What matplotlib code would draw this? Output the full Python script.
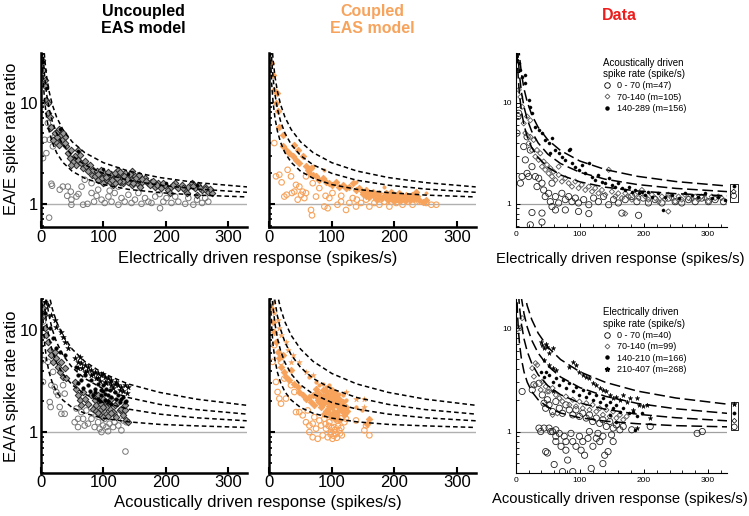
import matplotlib.pyplot as plt
import numpy as np
from matplotlib.lines import Line2D
from matplotlib.ticker import FixedLocator, LogLocator, NullFormatter, MultipleLocator

plt.rcParams['font.family'] = ['Liberation Sans', 'DejaVu Sans']

naranja = '#F7A35C'

# eje x comun para las curvas de referencia (spikes/s)
curva_x = [1.5, 2.5, 4, 6, 9, 13, 18, 25, 35, 50, 70, 100, 140, 190, 250, 330]

# curvas modelo fila superior (EA/E)
sup_modelo = [
    [37.7, 23.0, 14.75, 10.17, 7.11, 5.23, 4.06, 3.2, 2.57, 2.1, 1.79, 1.55, 1.39, 1.29, 1.22, 1.17],
    [67.7, 41.0, 26.0, 17.67, 12.11, 8.69, 6.56, 5.0, 3.86, 3.0, 2.43, 2.0, 1.71, 1.53, 1.4, 1.3],
    [104.3, 63.0, 39.75, 26.83, 18.22, 12.92, 9.61, 7.2, 5.43, 4.1, 3.21, 2.55, 2.11, 1.82, 1.62, 1.47],
]
# curvas modelo fila inferior (EA/A)
inf_modelo = [
    [25.7, 15.8, 10.25, 7.17, 5.11, 3.85, 3.06, 2.48, 2.06, 1.74, 1.53, 1.37, 1.26, 1.19, 1.15, 1.11],
    [64.3, 39.0, 24.75, 16.83, 11.56, 8.31, 6.28, 4.8, 3.71, 2.9, 2.36, 1.95, 1.68, 1.5, 1.38, 1.29],
    [111.0, 67.0, 42.25, 28.5, 19.33, 13.69, 10.17, 7.6, 5.71, 4.3, 3.36, 2.65, 2.18, 1.87, 1.66, 1.5],
    [184.3, 111.0, 69.75, 46.83, 31.56, 22.15, 16.28, 12.0, 8.86, 6.5, 4.93, 3.75, 2.96, 2.45, 2.1, 1.83],
]
# curvas de los datos
sup_datos = [
    [44.3, 27.0, 17.25, 11.83, 8.22, 6.0, 4.61, 3.6, 2.86, 2.3, 1.93, 1.65, 1.46, 1.34, 1.26, 1.2],
    [71.0, 43.0, 27.25, 18.5, 12.67, 9.08, 6.83, 5.2, 4.0, 3.1, 2.5, 2.05, 1.75, 1.55, 1.42, 1.32],
    [111.0, 67.0, 42.25, 28.5, 19.33, 13.69, 10.17, 7.6, 5.71, 4.3, 3.36, 2.65, 2.18, 1.87, 1.66, 1.5],
]
inf_datos = [
    [25.0, 15.4, 10.0, 7.0, 5.0, 3.77, 3.0, 2.44, 2.03, 1.72, 1.51, 1.36, 1.26, 1.19, 1.14, 1.11],
    [60.3, 36.6, 23.25, 15.83, 10.89, 7.85, 5.94, 4.56, 3.54, 2.78, 2.27, 1.89, 1.64, 1.47, 1.36, 1.27],
    [111.7, 67.4, 42.5, 28.67, 19.44, 13.77, 10.22, 7.64, 5.74, 4.32, 3.37, 2.66, 2.19, 1.87, 1.66, 1.5],
    [186.3, 112.2, 70.5, 47.33, 31.89, 22.38, 16.44, 12.12, 8.94, 6.56, 4.97, 3.78, 2.99, 2.46, 2.11, 1.84],
]

# ---------------- puntos (x, razon) ----------------
tl_circ = [(13, 0.73), (16.6, 1.58), (17.7, 1.51), (30, 1.38), (35, 1.48), (43, 1.48), (47.7, 1.32), (48.7, 1.1),
           (48.7, 0.98), (42, 1.2), (56.8, 1.18), (65, 1.48), (67.5, 0.98), (74.5, 1.0), (81, 1.6), (81, 1.28),
           (89, 1.2), (91.6, 1.38), (97, 1.1), (102, 1.02), (108, 1.18), (113, 1.05), (118, 1.28), (124, 0.98),
           (129, 1.14), (134, 1.05), (140, 1.23), (145, 1.02), (150.5, 1.1), (156, 1.28), (161, 1.0), (166.6, 1.14),
           (172, 1.05), (177, 1.02), (183, 1.18), (190.7, 0.905), (196, 1.05), (201, 1.14), (209, 1.02), (215, 1.18),
           (220, 1.05), (231, 1.0), (236, 1.14), (244, 0.98), (250, 1.1), (258, 1.02), (263, 1.14), (268, 1.05),
           (3.2, 2.83), (5.9, 4.3), (14, 4.3), (11, 6.3), (8.6, 3.17), (1.6, 9.9), (19, 3.7), (22, 4.6),
           (70, 1.73), (102, 1.6), (124, 1.48), (156, 1.66), (60, 1.25), (85, 1.05), (110, 1.35), (190, 1.25)]
tl_diam = [(1.6, 26.7), (3.2, 21.1), (5.9, 16.9), (7, 14.5), (8.6, 10.7), (11.2, 9.9), (11.2, 7.9), (14, 7.3),
           (14, 5.6), (16.6, 5.8), (22, 5.0), (27, 5.2), (30, 4.47), (32.7, 4.8), (35, 4.1), (38, 4.6), (24.6, 4.1),
           (28.4, 3.84), (40.7, 3.7), (19.3, 4.3), (43.4, 3.17), (46, 2.83), (48.7, 3.42), (51.4, 2.62), (54, 2.94),
           (56.8, 2.43), (59.5, 2.73), (62, 3.06), (64.8, 2.53), (67.5, 2.25), (70, 2.63), (72.8, 2.34), (75.5, 2.09),
           (78, 2.43), (81, 1.94), (48.7, 2.43), (59.5, 3.42), (83.6, 2.17), (86.2, 1.87), (89, 2.09), (91.6, 1.73),
           (94, 2.01), (97, 1.8), (99.6, 1.6), (102, 1.94), (105, 1.73), (107.6, 1.87), (110, 1.66), (113, 1.8),
           (115.7, 1.54), (118, 1.94), (121, 1.73), (123.7, 1.87), (126.4, 1.66), (129, 1.8), (131.8, 1.6),
           (134.4, 1.73), (137, 1.87), (140, 1.66), (142.5, 1.8), (145, 1.54), (148, 1.73), (150.5, 1.87), (153, 1.6),
           (156, 1.73), (158.5, 1.48), (161, 1.66), (123.7, 2.17), (134, 2.01), (145, 2.09), (166.6, 1.8), (172, 1.6),
           (177, 1.66), (183, 1.48), (188, 1.6), (193, 1.43), (198.7, 1.54), (204, 1.38), (209, 1.48), (215, 1.6),
           (220, 1.43), (225.5, 1.54), (231, 1.38), (236, 1.48), (241.6, 1.6), (247, 1.43), (252, 1.54), (257.6, 1.38),
           (263, 1.48), (268, 1.32), (273.7, 1.28), (206.7, 1.28), (233.5, 1.28), (249.6, 1.23), (120, 1.78),
           (128, 1.95), (136, 1.78), (112, 1.95), (100, 2.05), (132, 1.68), (140, 1.9), (125, 1.7), (118, 1.62),
           (92, 1.95), (96, 2.15), (104, 1.85), (108, 2.05), (114, 1.72), (119, 2.0), (122, 1.82), (127, 2.05),
           (133, 1.9), (138, 1.75), (143, 1.95), (147, 1.62), (152, 1.78), (157, 1.92), (162, 1.75), (168, 1.68),
           (174, 1.55), (180, 1.7), (186, 1.52), (195, 1.62), (212, 1.55), (228, 1.45), (244, 1.5), (255, 1.45),
           (262, 1.4), (270, 1.4), (25, 4.6), (29, 5.5), (33, 4.3), (36, 5.0), (39, 4.0)]
tl_dot = [(4, 25), (10, 14), (30, 5.5), (60, 3.3), (100, 2.2), (140, 1.95), (200, 1.62), (250, 1.52)]

tm_circ = [(8, 3.99), (10.7, 1.87), (16, 1.94), (19.7, 1.63), (24, 1.18), (27.7, 1.23), (34.7, 1.87), (36.3, 1.28),
           (40, 1.32), (45.4, 1.1), (48, 1.48), (50.7, 1.23), (53.4, 1.32), (56, 1.14), (58.7, 1.28), (66.7, 0.87),
           (68.3, 0.77), (74.7, 1.18), (80, 1.43), (88, 0.94), (93.4, 0.905), (96, 1.14), (101, 1.28), (109, 0.98),
           (114.7, 1.05), (122.7, 0.87), (128, 1.02), (133.4, 1.14), (138.7, 0.94), (146.7, 1.02), (154.7, 1.1),
           (160, 0.94), (168, 1.02), (176, 0.98), (184, 1.05), (192, 0.94), (203, 1.02), (213, 0.98), (221, 1.05),
           (229, 0.98), (240, 1.05), (250.8, 1.02), (259, 0.98), (267, 0.98), (29.3, 2.17), (42.7, 1.54),
           (58.7, 1.87), (69.4, 1.6), (90, 1.2), (115, 1.2), (140, 1.1), (175, 1.12), (205, 1.1)]
tm_diam = [(2.7, 24.7), (5.3, 18.9), (8, 13.5), (10.7, 9.9), (11.7, 12.5), (13.3, 8.2), (16, 5.8), (22.4, 4.8),
           (21.3, 3.7), (26.7, 3.42), (32, 3.17), (37.4, 2.94), (40, 3.84), (42.7, 2.73), (45.4, 3.42), (48, 2.53),
           (53.4, 2.94), (58.7, 2.34), (61.4, 2.17), (64, 2.01), (66.7, 2.25), (69.4, 1.94), (74.7, 1.87), (80, 1.73),
           (85.4, 1.8), (90.7, 1.66), (96, 1.6), (101, 1.54), (106.7, 1.66), (112, 1.48), (117.4, 1.54), (122.7, 1.43),
           (128, 1.48), (133.4, 1.6), (138.7, 1.38), (144, 1.43), (149.4, 1.32), (154.7, 1.38), (160, 1.28),
           (165, 1.32), (170.8, 1.23), (176, 1.28), (181.4, 1.18), (186.8, 1.28), (192, 1.18), (197.4, 1.23),
           (202.8, 1.14), (208, 1.28), (213.4, 1.18), (218.8, 1.23), (224, 1.14), (229.4, 1.18), (234.8, 1.32),
           (208, 1.1), (197.4, 1.1), (218.8, 1.1), (240, 1.1), (245.5, 1.05), (250.8, 1.1), (160, 1.16), (170, 1.12),
           (180, 1.14), (190, 1.12), (200, 1.16), (210, 1.2), (220, 1.15), (228, 1.22), (205, 1.24), (195, 1.3),
           (150, 1.25), (155, 1.2), (165, 1.22), (175, 1.18), (185, 1.2), (190, 1.08), (200, 1.06), (210, 1.08),
           (215, 1.14), (225, 1.08), (232, 1.12), (236, 1.2)]
tm_dot = [(88, 2.17), (184, 1.48), (250.8, 1.28), (138.7, 1.66), (69.4, 2.34)]

tr_circ = [(25.4, 0.82), (22.8, 0.62), (41, 0.81), (41, 0.66), (56.6, 0.94), (62, 0.87), (77.4, 0.87), (98, 0.84),
           (114, 0.8), (165.6, 0.81), (191.6, 0.77), (2, 5.0), (4.7, 7.86), (12.5, 3.68), (15, 2.72), (17.7, 2.0),
           (20.2, 1.86), (25.4, 2.33), (30.6, 1.86), (33.2, 1.48), (35.8, 1.79), (41, 1.6), (43.6, 1.37), (46, 1.18),
           (51.4, 1.27), (54, 1.05), (56.6, 1.6), (62, 1.18), (67, 1.02), (72, 1.27), (77.4, 1.1), (82.6, 1.18),
           (87.7, 1.05), (93, 1.14), (98, 1.02), (106, 1.1), (114, 0.98), (121.5, 1.14), (129, 1.05), (137, 1.18),
           (145, 0.98), (152.6, 1.1), (160, 1.02), (170.8, 1.1), (181, 1.18), (189, 1.05), (199, 1.14), (207, 1.02),
           (217.5, 1.1), (228, 1.02), (238, 1.14), (248.7, 1.05), (259, 1.02), (269.5, 1.1), (280, 1.05), (290, 1.14),
           (300.6, 1.05), (311, 1.1), (324, 1.05), (7.3, 1.6), (9.9, 1.86), (3.6, 7.3), (17.7, 4.6), (22.8, 3.4)]
tr_diam = [(7.3, 11.4), (9.9, 9.1), (12.5, 6.25), (15, 5.0), (17.7, 7.3), (20.2, 3.97), (22.8, 4.6), (25.4, 3.4),
           (28, 4.28), (30.6, 2.93), (33.2, 3.4), (35.8, 2.72), (38.4, 3.16), (41, 2.33), (43.6, 2.62), (46, 2.17),
           (48.8, 2.43), (51.4, 2.0), (54, 2.25), (56.6, 1.86), (59, 2.08), (62, 1.72), (67, 1.93), (72, 1.66),
           (77.4, 1.79), (82.6, 1.6), (87.7, 1.48), (93, 1.66), (98, 1.43), (103, 1.54), (108.5, 1.37), (114, 1.48),
           (119, 1.32), (124, 1.43), (129, 1.27), (134.5, 1.37), (139.7, 1.23), (145, 2.17), (150, 1.32), (155, 1.18),
           (160, 1.27), (165.6, 1.14), (170.8, 1.27), (176, 1.18), (181, 1.1), (186, 1.23), (191.6, 1.14),
           (196.8, 1.37), (202, 1.18), (207, 1.1), (212.4, 1.23), (217.5, 1.14), (222.7, 1.05), (228, 1.18),
           (233, 1.1), (238, 1.23), (243.5, 1.14), (248.7, 1.05), (254, 1.18), (259, 1.1), (264, 1.23), (269.5, 1.14),
           (274.6, 1.1), (280, 1.18), (285, 1.1), (290, 1.18), (295, 1.14), (300.6, 1.05), (305.8, 1.18), (311, 1.14),
           (316, 1.18), (321, 1.14), (170.8, 0.8), (238, 0.84), (67, 2.33), (22.8, 6.7), (4.7, 13.4)]
tr_dot = [(2, 26.4), (4.7, 24.5), (7.3, 21), (9.9, 18.1), (14, 18.7), (15, 15.5), (20.2, 10.6), (22.8, 9.1),
          (25.4, 7.86), (30.6, 5.8), (35.8, 5.4), (41, 5.0), (46, 4.28), (51.4, 3.97), (56.6, 4.45), (62, 3.4),
          (67, 3.16), (72, 2.93), (77.4, 2.72), (82.6, 3.4), (87.7, 2.52), (93, 2.33), (98, 2.17), (103, 2.43),
          (108.5, 2.0), (114, 2.52), (119, 1.86), (124, 1.72), (129, 1.93), (134.5, 1.66), (139.7, 1.6), (145, 1.79),
          (150, 1.54), (155, 1.48), (160, 1.6), (165.6, 1.43), (170.8, 1.37), (176, 1.48), (181, 1.32), (186, 1.37),
          (191.6, 1.27), (196.8, 1.32), (202, 1.23), (207, 1.32), (212.4, 1.18), (222.7, 1.27), (233, 1.18),
          (243.5, 1.23), (254, 1.14), (264, 1.27), (274.6, 1.23), (285, 1.18), (295, 1.27), (305.8, 1.14),
          (316, 1.18), (230.5, 0.87), (326.6, 1.1), (85, 3.5), (54, 3.16)]

bl_circ = [(3.2, 12.1), (3.2, 5.07), (3.2, 3.1), (11.2, 4.88), (16.6, 2.88), (19.3, 3.89), (22, 2.77), (24.6, 2.47),
           (27.5, 2.3), (30, 1.76), (32.7, 1.51), (38, 2.38), (38, 1.51), (35.4, 2.88), (15.5, 1.76), (14, 1.97),
           (54, 1.25), (56.8, 1.7), (59.4, 1.35), (64.8, 1.57), (67.5, 1.35), (70, 1.16), (75.5, 1.21), (81, 1.35),
           (86, 1.12), (89, 1.46), (91.6, 1.25), (94, 1.08), (97, 1.0), (99.6, 1.16), (102, 1.35), (105, 1.12),
           (107.6, 1.02), (110, 1.21), (113, 1.4), (115.7, 1.12), (118, 1.25), (124, 1.16), (129, 1.04), (131.8, 1.3),
           (137, 1.25), (135.5, 0.645), (59.4, 1.12), (72.8, 1.63), (97, 1.63), (105, 1.57), (118, 1.51), (81, 1.7),
           (115.7, 1.76)]
bl_diam = [(3.2, 16.3), (4.8, 14), (5.9, 10.4), (8.6, 8.9), (11.2, 7.7), (14, 6.35), (16.6, 5.68), (19.3, 4.88),
           (22, 6.1), (24.6, 5.27), (27.3, 4.36), (30, 3.89), (32.7, 4.88), (35.4, 3.47), (38, 4.2), (40.7, 3.35),
           (54, 3.1), (56.8, 2.67), (59.4, 2.29), (62, 2.05), (64.8, 1.83), (67.5, 2.47), (70, 2.13), (75.5, 1.9),
           (81, 2.29), (83.6, 1.7), (86, 2.05), (89, 1.83), (91.6, 2.29), (94, 1.97), (97, 1.7), (99.6, 2.13),
           (102, 1.83), (105, 1.51), (107.6, 1.97), (110, 1.7), (113, 2.13), (115.7, 1.57), (118, 1.83), (121, 1.4),
           (124, 1.97), (126.4, 1.63), (129, 1.7), (131.8, 1.46), (134.4, 1.63), (137, 1.3), (140, 1.25),
           (134.4, 1.83), (88, 1.6), (92, 1.55), (96, 1.45), (100, 1.4), (104, 1.75), (108, 1.45), (112, 1.55),
           (96, 1.9), (100, 1.75)]
bl_dot = [(5.9, 14.6), (14, 10.4), (19.3, 8.3), (24.6, 6.6), (30, 6.1), (38, 5.7), (56.8, 4.36), (59.4, 3.6),
          (64.8, 3.22), (70, 3.6), (75.5, 2.88), (81, 3.22), (86, 2.67), (91.6, 2.99), (97, 2.57), (99.6, 2.88),
          (102, 2.38), (105, 2.67), (107.6, 2.29), (110, 2.57), (113, 2.21), (118, 2.47), (124, 2.29), (129, 2.13),
          (134.4, 1.97), (97, 2.29), (91.6, 2.13), (102, 2.05), (86, 2.47), (60, 3.0), (68, 2.7), (78, 2.5),
          (84, 2.3), (95, 2.0), (100, 2.5), (108, 2.0), (112, 1.9), (120, 2.1), (126, 1.95), (132, 2.2), (137, 2.0)]
bl_star = [(5.9, 19), (11.2, 17.6), (16.6, 14), (22, 12.5), (24.6, 10.8), (32.7, 9.6), (38, 7.7), (43.4, 6.6),
           (54, 5.27), (59.4, 4.88), (64.8, 4.7), (70, 4.53), (75.5, 4.36), (81, 4.05), (86, 3.89), (91.6, 3.75),
           (97, 3.6), (102, 3.47), (107.6, 3.35), (113, 3.22), (118, 2.99), (124, 2.88), (129, 2.77), (134.4, 2.88),
           (140, 2.77), (59.4, 4.2), (70, 3.89), (81, 3.6), (91.6, 3.35), (102, 3.1), (113, 2.88), (62, 5.47),
           (35.4, 8.6), (66, 4.2), (74, 4.0), (84, 3.7), (88, 3.4), (95, 3.2), (100, 3.7), (105, 3.0), (110, 3.1),
           (116, 2.7), (121, 3.1), (127, 2.6), (132, 2.5), (138, 2.4)]

bm_circ = [(5.3, 4.88), (8, 7.1), (10.7, 3.1), (16, 2.13), (18.7, 1.9), (26.7, 2.13), (34.7, 2.88), (40, 2.47),
           (42.7, 1.57), (48, 1.57), (53.4, 1.46), (58.7, 1.25), (64, 1.0), (69.4, 0.89), (74.7, 1.08), (77.4, 0.86),
           (82.7, 1.16), (85.4, 0.93), (88, 1.35), (90.7, 1.08), (93.4, 0.89), (96, 1.25), (98.7, 1.0), (101, 0.86),
           (104, 1.12), (106.7, 0.96), (109, 1.3), (112, 1.04), (116, 0.93), (120, 1.25), (122.7, 1.35),
           (138.7, 1.3), (152, 1.04), (154.7, 1.16), (160, 0.93), (69.4, 1.21), (80, 1.3), (18.7, 4.88),
           (24, 3.35), (13.3, 2.47), (64, 1.16), (72, 1.4), (61.4, 1.63), (90, 1.2), (95, 1.15), (100, 1.1),
           (105, 1.05), (110, 1.15), (115, 1.1), (98, 0.95), (103, 0.92), (108, 0.88), (113, 0.97)]
bm_diam = [(2.7, 16.3), (5.3, 12.1), (8, 9.6), (10.7, 7.7), (13.3, 6.1), (16, 5.27), (18.7, 4.36), (21.3, 5.68),
           (24, 3.89), (26.7, 3.47), (32, 3.22), (34.7, 4.05), (40, 2.99), (45.4, 2.77), (48, 2.47), (53.4, 2.29),
           (58.7, 2.13), (64, 2.21), (66.7, 1.97), (69.4, 2.29), (72, 1.83), (74.7, 2.67), (77.4, 2.05), (80, 2.38),
           (82.7, 1.76), (85.4, 2.57), (88, 1.97), (90.7, 2.29), (93.4, 1.7), (96, 2.13), (98.7, 2.57), (101, 1.9),
           (104, 1.57), (106.7, 2.29), (109, 1.83), (112, 2.13), (115, 1.63), (117.4, 1.97), (120, 1.46),
           (122.7, 1.76), (88, 1.51), (98.7, 1.4), (109, 1.46), (160, 1.35), (157, 1.21), (92, 2.0), (100, 2.2),
           (95, 1.8), (104, 2.0), (86, 2.1), (110, 1.6), (78, 2.4), (82, 2.2), (86, 1.9), (90, 2.5), (94, 2.3),
           (97, 1.95), (100, 1.75), (102, 2.4), (105, 2.15), (108, 2.0), (111, 1.75), (114, 1.9), (118, 1.7),
           (121, 1.55), (124, 1.6), (90, 1.6), (95, 1.55), (100, 1.45), (105, 1.35), (112, 1.3), (80, 1.95),
           (76, 2.2)]
bm_dot = [(64, 3.47), (74.7, 3.1), (80, 2.88), (85.4, 2.99), (90.7, 2.77), (96, 2.88), (101, 2.67), (106.7, 2.47),
          (112, 2.38), (117.4, 2.29), (122.7, 2.05), (138.7, 1.76), (149, 1.63), (74.7, 2.47), (85.4, 2.29),
          (96, 2.38)]
bm_star = [(5.3, 19), (8, 14.6), (13.3, 12.5), (16, 10.4), (18.7, 8.9), (26.7, 7.7), (29.3, 6.35), (37.4, 5.68),
           (48, 4.88), (58.7, 3.89), (69.4, 3.6), (122.7, 2.47), (138.7, 2.13), (152, 2.13), (152, 1.76),
           (34.7, 4.88)]

br_circ = [(2.1, 10), (10, 2.44), (28.4, 2.83), (36.3, 2.93), (25.8, 2.53), (41.5, 2.26), (44.2, 1.88), (49.4, 2.03),
           (46.8, 1.68), (52, 1.81), (57.5, 1.56), (62.6, 1.95), (68, 1.68), (73, 1.5), (78.3, 1.81), (83.6, 1.62),
           (89, 1.45), (94, 1.62), (99.4, 1.4), (104.6, 1.5), (110, 1.35), (115, 1.45), (120, 1.25), (125.7, 1.35),
           (131, 1.2), (136, 1.3), (141.4, 1.12), (146.7, 1.25), (152, 1.08), (157, 1.16), (162.5, 1.04),
           (167.7, 1.12), (181, 1.04), (209.8, 1.12), (283, 0.96), (291, 1.0), (36.3, 1.08), (44.2, 1.08),
           (52, 1.08), (54.7, 1.0), (62.6, 1.04), (46.8, 0.64), (49.4, 0.62), (57.5, 1.0), (62.6, 0.8), (68, 0.96),
           (70.7, 0.72), (78.3, 0.8), (78.3, 0.66), (75.7, 0.9), (86.2, 0.96), (89, 0.8), (94, 0.72), (99.4, 0.9),
           (102, 0.66), (104.6, 0.8), (107.4, 0.59), (112.7, 0.86), (117.8, 0.44), (120.4, 0.72), (128.3, 0.96),
           (131, 0.8), (136, 0.49), (138.8, 0.59), (144, 0.64), (152, 0.8), (73, 0.41), (89, 0.41), (60, 0.48),
           (81, 0.53), (39, 1.0), (62.6, 0.9), (115, 1.0), (125.7, 0.86), (136, 0.9), (149.5, 0.93)]
br_diam = [(10, 12.5), (7.4, 10), (31, 4.58), (25.8, 4.1), (33.6, 4.4), (28.4, 3.4), (31, 2.83), (41.5, 3.04),
           (46.8, 2.72), (52, 2.44), (57.5, 2.63), (62.6, 2.26), (68, 2.1), (73, 1.95), (78.3, 2.18), (83.6, 1.81),
           (89, 2.03), (94, 1.75), (99.4, 1.95), (104.6, 1.68), (110, 1.88), (115, 1.62), (120, 1.81), (125.7, 1.56),
           (131, 1.68), (136, 1.45), (141.4, 1.62), (146.7, 1.4), (152, 1.56), (157, 1.35), (162.5, 1.45),
           (167.7, 1.3), (173, 1.4), (57.5, 1.45), (65, 1.5), (49.4, 2.44), (39, 2.53)]
br_dot = [(39, 3.8), (44, 3.4), (46.8, 3.8), (52, 3.54), (57.5, 3.04), (62.6, 3.28), (68, 2.83), (73, 3.16),
          (78.3, 2.63), (83.6, 2.93), (89, 2.44), (94, 2.72), (99.4, 2.26), (104.6, 2.53), (110, 2.18), (115, 2.35),
          (120, 2.03), (125.7, 2.26), (131, 1.95), (136, 2.1), (141.4, 1.81), (146.7, 1.95), (152, 1.68),
          (157, 1.81), (162.5, 1.56), (167.7, 1.68), (176, 1.5), (183, 1.56), (188.8, 1.4), (196.6, 1.5),
          (146.7, 1.45), (157, 1.25), (186, 1.04)]
br_star = [(39, 7.4), (41.5, 6.9), (44, 6.4), (46.8, 7.1), (49.4, 6.6), (52, 5.7), (57.5, 6.4), (44, 4.95),
           (52, 4.4), (57.5, 4.1), (62.6, 3.95), (83.6, 4.25), (89, 4.75), (94, 4.4), (99.4, 3.8), (104.6, 3.54),
           (110, 3.4), (115, 3.28), (120, 2.93), (125.7, 2.83), (131, 2.63), (136, 2.53), (141.4, 2.44),
           (146.7, 2.26), (152, 2.1), (157, 2.18), (162.5, 2.03), (167.7, 2.26), (173, 1.95), (178.6, 2.1),
           (188.8, 2.1), (191.6, 1.81), (199, 1.75), (204.6, 1.81), (209.8, 1.35), (188.8, 1.08), (183.5, 1.62),
           (57.5, 2.44)]

sup_leyenda = ['0 - 70 (m=47)', '70-140 (m=105)', '140-289 (m=156)']
inf_leyenda = ['0 - 70 (m=40)', '70-140 (m=99)', '140-210 (m=166)', '210-407 (m=268)']

fig = plt.figure(figsize=(7.49, 5.16), dpi=100)
W, H = 749.0, 516.0


def ejes(l, t, r, b):
    return fig.add_axes([l / W, 1 - b / H, (r - l) / W, (b - t) / H])


def pts(lista):
    a = np.array(lista)
    return a[:, 0], a[:, 1]


def estilo_modelo(ax, ylim, etiquetas):
    ax.set_yscale('log')
    ax.set_xlim(0, 330)
    ax.set_ylim(*ylim)
    for s in ['top', 'right']:
        ax.spines[s].set_visible(False)
    for s in ['left', 'bottom']:
        ax.spines[s].set_linewidth(1.8)
    ax.yaxis.set_major_locator(FixedLocator([1, 10]))
    ax.yaxis.set_minor_locator(LogLocator(subs=np.arange(2, 10)))
    ax.yaxis.set_minor_formatter(NullFormatter())
    ax.set_xticks([0, 100, 200, 300])
    if etiquetas:
        ax.set_yticklabels(['1', '10'])
    else:
        ax.set_yticklabels([])
    ax.tick_params(direction='in', length=4, width=1.5, labelsize=12, pad=2)
    ax.tick_params(which='minor', direction='in', length=2.5, width=1.2)
    ax.axhline(1, color='#b0b0b0', lw=1.0, zorder=0)


def estilo_datos(ax, ylim):
    ax.set_yscale('log')
    ax.set_xlim(0, 330)
    ax.set_ylim(*ylim)
    for s in ['top', 'right']:
        ax.spines[s].set_visible(False)
    for s in ['left', 'bottom']:
        ax.spines[s].set_linewidth(0.8)
    ax.yaxis.set_major_locator(FixedLocator([1, 10]))
    ax.yaxis.set_minor_locator(LogLocator(subs=np.arange(2, 10)))
    ax.yaxis.set_minor_formatter(NullFormatter())
    ax.set_yticklabels(['1', '10'])
    ax.set_xticks([0, 100, 200, 300])
    ax.xaxis.set_minor_locator(MultipleLocator(20))
    ax.tick_params(direction='in', length=3, width=0.7, labelsize=6, pad=3)
    ax.tick_params(which='minor', direction='in', length=2, width=0.6)
    ax.axhline(1, color='#a0a0a0', lw=0.9, zorder=0)


def curvas(ax, lista, dashes):
    for c in lista:
        ax.plot(curva_x, c, color='black', lw=1.1, dashes=dashes, zorder=3)


def grupo(ax, lista, marker, s, fc, ec, lw=0.7, z=2):
    x, y = pts(lista)
    ax.scatter(x, y, s=s, marker=marker, facecolors=fc, edgecolors=ec, linewidths=lw, zorder=z)


ylim_sup = (0.59, 31)
ylim_inf = (0.4, 20)

# ---- fila superior ----
ax1 = ejes(41, 53, 247, 227)
estilo_modelo(ax1, ylim_sup, True)
grupo(ax1, tl_circ, 'o', 16, 'none', '#777777')
grupo(ax1, tl_diam, 'D', 11, '#999999', '#2a2a2a', 0.7)
grupo(ax1, tl_dot, 'o', 5, 'black', 'black', 0.3)
curvas(ax1, sup_modelo, (3, 2))

ax2 = ejes(269.3, 53, 475.7, 227)
estilo_modelo(ax2, ylim_sup, False)
grupo(ax2, tm_circ, 'o', 16, 'none', naranja, 0.8)
grupo(ax2, tm_diam, 'D', 11, naranja, naranja, 0.6)
grupo(ax2, tm_dot, 'o', 6, naranja, naranja, 0.3)
curvas(ax2, sup_modelo, (3, 2))

ax3 = ejes(515.7, 53, 727.3, 227)
estilo_datos(ax3, ylim_sup)
grupo(ax3, tr_circ, 'o', 20, 'none', '#222222', 0.6)
grupo(ax3, tr_diam, 'D', 7, 'none', '#555555', 0.6)
grupo(ax3, tr_dot, 'o', 5, 'black', 'black', 0.3)
curvas(ax3, sup_datos, (7, 3))

# ---- fila inferior ----
ax4 = ejes(41, 299.3, 246.7, 472.7)
estilo_modelo(ax4, ylim_inf, True)
grupo(ax4, bl_circ, 'o', 16, 'none', '#777777')
grupo(ax4, bl_diam, 'D', 11, '#999999', '#2a2a2a', 0.7)
grupo(ax4, bl_dot, 'o', 7, 'black', 'black', 0.3)
grupo(ax4, bl_star, '*', 18, 'black', 'black', 0.3)
curvas(ax4, inf_modelo, (3, 2))

ax5 = ejes(269.3, 299.3, 475.7, 472.7)
estilo_modelo(ax5, ylim_inf, False)
grupo(ax5, bm_circ, 'o', 16, 'none', naranja, 0.8)
grupo(ax5, bm_diam, 'D', 11, naranja, naranja, 0.6)
grupo(ax5, bm_dot, 'o', 7, naranja, naranja, 0.3)
grupo(ax5, bm_star, '*', 18, naranja, naranja, 0.3)
curvas(ax5, inf_modelo, (3, 2))

ax6 = ejes(515.7, 299.3, 727.3, 472.7)
estilo_datos(ax6, (0.4, 19))
grupo(ax6, br_circ, 'o', 20, 'none', '#222222', 0.6)
grupo(ax6, br_diam, 'D', 7, 'none', '#555555', 0.6)
grupo(ax6, br_dot, 'o', 5, 'black', 'black', 0.3)
grupo(ax6, br_star, '*', 12, 'black', 'black', 0.3)
curvas(ax6, inf_datos, (7, 3))

# cajitas con simbolos al final de las curvas
simb_sup = [('o', 'none', 16), ('D', 'none', 6), ('o', 'black', 5)]
for c, (m, fc, s) in zip(sup_datos, simb_sup):
    ax3.scatter([340], [c[-1]], marker=m, s=s, facecolors=fc, edgecolors='black', linewidths=0.5, clip_on=False)
ax3.add_patch(plt.Rectangle((334, 1.05), 12, 0.53, fill=False, lw=0.6, ec='black', clip_on=False))
simb_inf = [('o', 'none', 16), ('D', 'none', 6), ('o', 'black', 5), ('*', 'black', 12)]
for c, (m, fc, s) in zip(inf_datos, simb_inf):
    ax6.scatter([341], [c[-1]], marker=m, s=s, facecolors=fc, edgecolors='black', linewidths=0.5, clip_on=False)
ax6.add_patch(plt.Rectangle((335, 1.04), 12, 0.9, fill=False, lw=0.6, ec='black', clip_on=False))

# leyendas de datos
h_sup = [Line2D([], [], ls='', marker='o', mfc='none', mec='black', ms=4, mew=0.6),
         Line2D([], [], ls='', marker='D', mfc='none', mec='#555555', ms=2.5, mew=0.6),
         Line2D([], [], ls='', marker='o', mfc='black', mec='black', ms=2.2)]
lg = ax3.legend(h_sup, sup_leyenda, title='Acoustically driven\nspike rate (spike/s)', loc='upper left',
                bbox_to_anchor=(0.39, 1.0), frameon=False, fontsize=6.5, title_fontsize=7, handlelength=1,
                handletextpad=0.6, labelspacing=0.25, borderpad=0, alignment='left')
h_inf = h_sup + [Line2D([], [], ls='', marker='*', mfc='black', mec='black', ms=3.5)]
lg2 = ax6.legend(h_inf, inf_leyenda, title='Electrically driven\nspike rate (spike/s)', loc='upper left',
                 bbox_to_anchor=(0.39, 0.98), frameon=False, fontsize=6.5, title_fontsize=7, handlelength=1,
                 handletextpad=0.6, labelspacing=0.25, borderpad=0, alignment='left')

# titulos y etiquetas
fig.text(143 / W, 1 - 20 / H, 'Uncoupled\nEAS model', ha='center', va='center', fontsize=11.5,
         fontweight='bold', linespacing=1.1)
fig.text(372 / W, 1 - 20 / H, 'Coupled\nEAS model', ha='center', va='center', fontsize=11.5,
         fontweight='bold', color=naranja, linespacing=1.1)
fig.text(619 / W, 1 - 15 / H, 'Data', ha='center', va='center', fontsize=11.5, fontweight='bold', color='#ee1c1c')

fig.text(258 / W, 1 - 258 / H, 'Electrically driven response (spikes/s)', ha='center', va='center', fontsize=12)
fig.text(620 / W, 1 - 259 / H, 'Electrically driven response (spikes/s)', ha='center', va='center', fontsize=10.6)
fig.text(258 / W, 1 - 503 / H, 'Acoustically driven response (spikes/s)', ha='center', va='center', fontsize=12)
fig.text(620 / W, 1 - 499 / H, 'Acoustically driven response (spikes/s)', ha='center', va='center', fontsize=10.6)
fig.text(12 / W, 1 - 139 / H, 'EA/E spike rate ratio', ha='center', va='center', rotation=90, fontsize=12)
fig.text(12 / W, 1 - 386 / H, 'EA/A spike rate ratio', ha='center', va='center', rotation=90, fontsize=12)

plt.savefig('out.png', dpi=100)
